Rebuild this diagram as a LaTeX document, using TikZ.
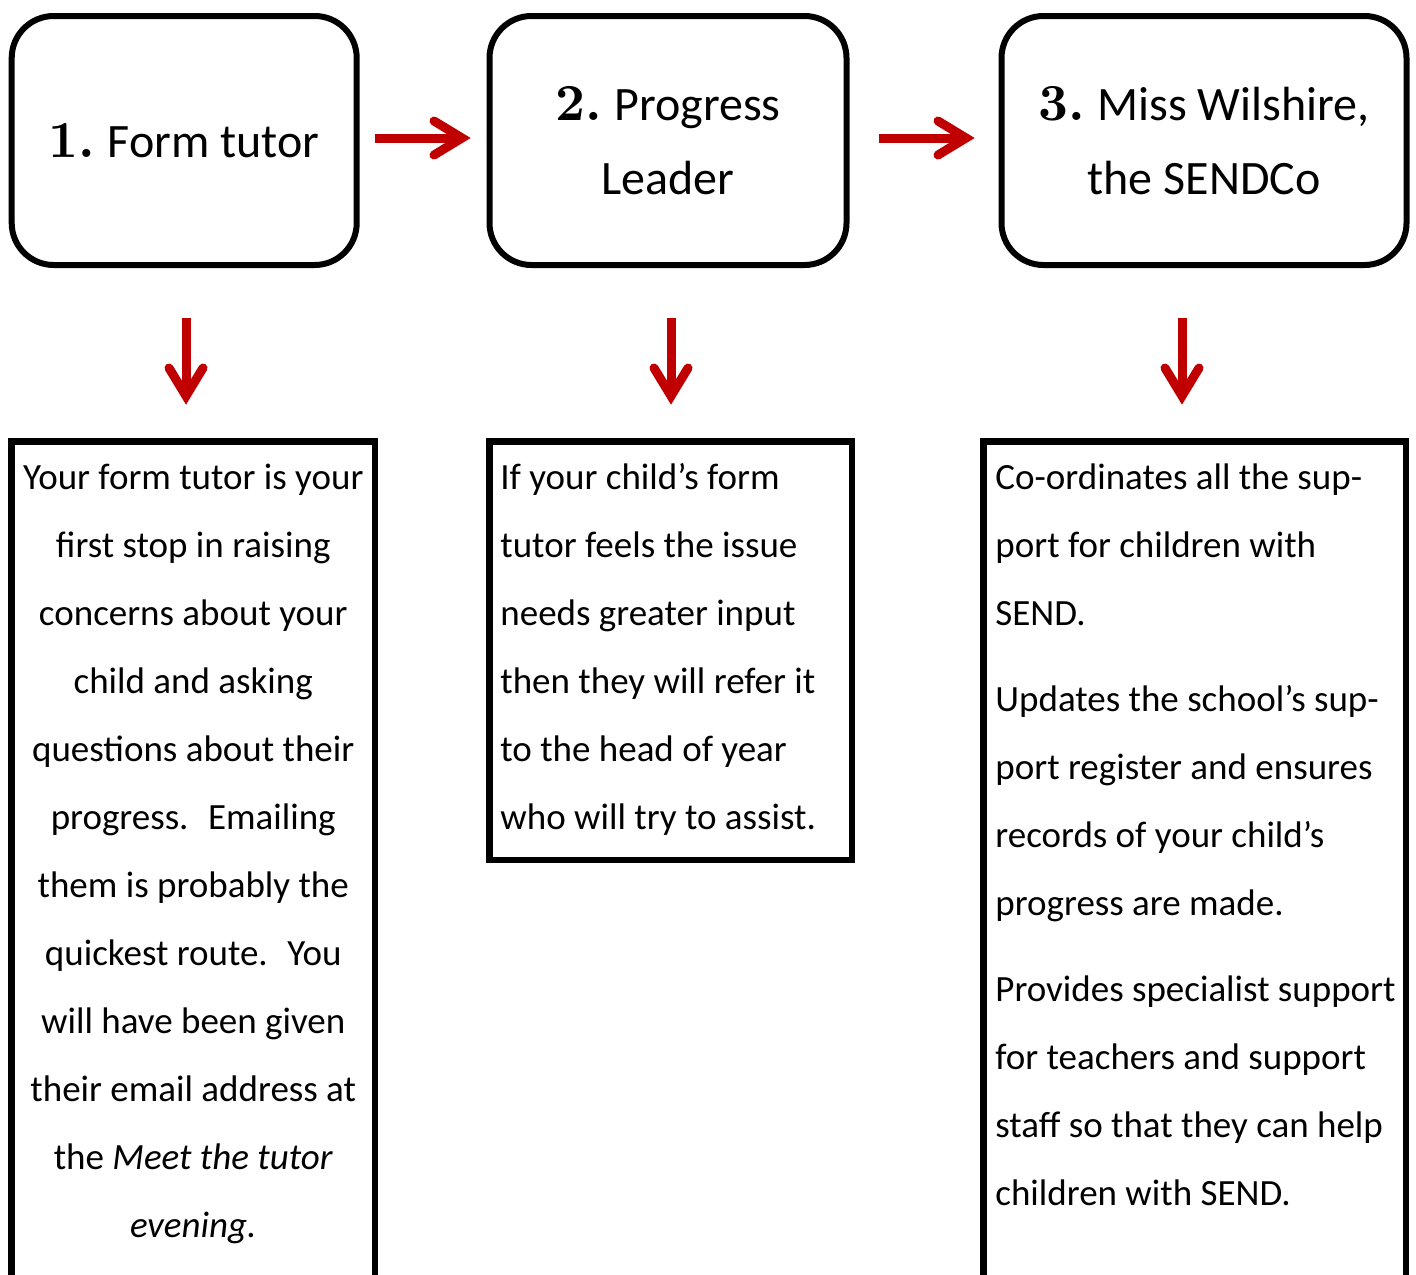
\documentclass[tikz,border=0pt]{standalone}
\usepackage{fontspec}
\setmainfont{Carlito}
\newfontfamily\numfont{lmroman10-bold.otf}
\usetikzlibrary{calc}
\definecolor{arrowred}{HTML}{C00000}
\newcommand{\stepnum}[1]{{\numfont\fontsize{26}{37}\selectfont #1}\hspace{-1pt}}
\begin{document}
\begin{tikzpicture}[x=0.5pt,y=-0.5pt,
  headbox/.style={draw, line width=3pt, rounded corners=21pt, inner sep=0,
     align=center, font=\fontsize{24}{37}\selectfont},
  infobox/.style={draw, line width=3.3pt},
  bodytext/.style={inner sep=0, font=\fontsize{18.5}{34}\selectfont},
  redline/.style={draw=arrowred, line width=4.5pt},
  redhead/.style={draw=arrowred, line width=4.5pt, line cap=round, line join=miter}
]
\clip (0,0) rectangle (1416,1274);
% header boxes
\node[headbox, minimum width=172.5pt, minimum height=124.5pt] (b1) at (184.2,140.5)
  {\stepnum{1.} Form tutor};
\node[headbox, minimum width=178.5pt, minimum height=124.5pt] (b2) at (668,140.5)
  {\stepnum{2.} Progress\\Leader};
\node[headbox, minimum width=202.5pt, minimum height=124.5pt] (b3) at (1204,140.5)
  {\stepnum{3.} Miss Wilshire,\\the SENDCo};
% horizontal arrows
\coordinate (h1s) at (375,138); \coordinate (h1t) at (462,138);
\coordinate (h2s) at (879,138); \coordinate (h2t) at (966,138);
\draw[redline] (h1s) -- (h1t);
\draw[redhead] ($(h1t)+(-28,-17)$) -- (h1t) -- ($(h1t)+(-28,17)$);
\draw[redline] (h2s) -- (h2t);
\draw[redhead] ($(h2t)+(-28,-17)$) -- (h2t) -- ($(h2t)+(-28,17)$);
% vertical arrows
\coordinate (v1s) at (186,318); \coordinate (v1t) at (186,396);
\coordinate (v2s) at (671,318); \coordinate (v2t) at (671,396);
\coordinate (v3s) at (1182,318); \coordinate (v3t) at (1182,396);
\foreach \a in {1,2,3}{
  \draw[redline] (v\a s) -- (v\a t);
  \draw[redhead] ($(v\a t)+(-17,-28)$) -- (v\a t) -- ($(v\a t)+(17,-28)$);
}
% info boxes
\draw[infobox] (11.5,441.5) rectangle (375,1320);
\draw[infobox] (489.5,441.5) rectangle (852,860);
\draw[infobox] (983.7,441.5) rectangle (1406,1320);
% texts
\node[bodytext, align=center, anchor=north] (ta) at (193.25,441.4)
  {\strut Your form tutor is your\\
   first stop in raising\\
   concerns about your\\
   child and asking\\
   questions about their\\
   progress.~ Emailing\\
   them is probably the\\
   quickest route.~ You\\
   will have been given\\
   their email address at\\
   the \textit{Meet the tutor}\\
   \textit{evening.}};
\node[bodytext, align=left, anchor=north west] (tb) at (500,441.4)
  {\strut If your child’s form\\
   tutor feels the issue\\
   needs greater input\\
   then they will refer it\\
   to the head of year\\
   who will try to assist.};
\node[bodytext, align=left, anchor=north west] (tc) at (995,441.4)
  {\strut Co-ordinates all the sup-\\
   port for children with\\
   SEND.\\[9pt]
   Updates the school’s sup-\\
   port register and ensures\\
   records of your child’s\\
   progress are made.\\[9pt]
   Provides specialist support\\
   for teachers and support\\
   staff so that they can help\\
   children with SEND.};
\end{tikzpicture}
\end{document}
